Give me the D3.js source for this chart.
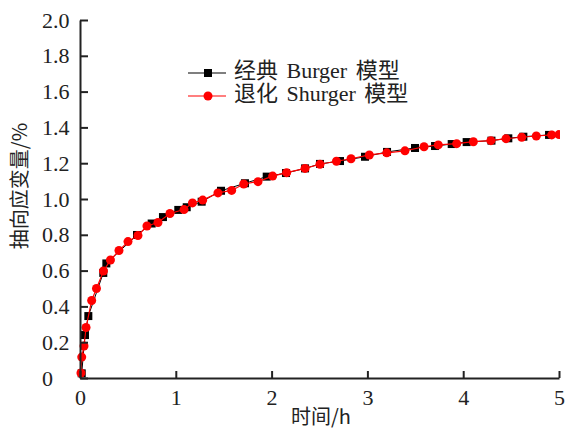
<!DOCTYPE html>
<html>
<head>
<meta charset="utf-8">
<script src="https://cdn.jsdelivr.net/npm/d3@7"></script>
<style>
  body { margin: 0; background: #fff; }
  svg { display: block; }
  .tick-label { font-family: "Liberation Serif", "Times New Roman", serif; font-size: 22px; fill: #222; }
  .axis-title { font-family: "Noto Sans CJK SC", sans-serif; font-size: 20px; fill: #222; }
  .legend-text { font-family: "Liberation Serif", "Noto Sans CJK SC", serif; font-size: 22px; word-spacing: 3px; fill: #222; }
</style>
</head>
<body>
<div id="chart"></div>
<script>
// Burger model (black squares): time in h, axial strain in %
const burgerTime = [0.018, 0.052, 0.087, 0.243, 0.275, 0.595, 0.748, 0.866, 1.026, 1.114, 1.27, 1.472, 1.722, 1.949, 2.15, 2.349, 2.505, 2.714, 2.975, 3.205, 3.497, 3.706, 3.88, 4.036, 4.295, 4.471, 4.628, 4.896];
const burgerStrain = [0.026, 0.24, 0.346, 0.587, 0.64, 0.799, 0.863, 0.899, 0.939, 0.954, 0.985, 1.046, 1.088, 1.125, 1.145, 1.171, 1.196, 1.212, 1.236, 1.263, 1.285, 1.296, 1.307, 1.318, 1.326, 1.339, 1.348, 1.358];

// Degenerated Shurger model (red circles)
const shurgerTime = [0.01, 0.018, 0.042, 0.063, 0.122, 0.172, 0.245, 0.318, 0.407, 0.501, 0.605, 0.699, 0.814, 0.939, 1.086, 1.174, 1.281, 1.44, 1.583, 1.709, 1.858, 2.011, 2.157, 2.349, 2.505, 2.677, 2.829, 3.02, 3.202, 3.392, 3.591, 3.74, 3.932, 4.106, 4.289, 4.447, 4.611, 4.763, 4.924, 5.0];
const shurgerStrain = [0.028, 0.117, 0.179, 0.282, 0.433, 0.5, 0.598, 0.659, 0.712, 0.762, 0.796, 0.849, 0.869, 0.919, 0.941, 0.978, 0.994, 1.034, 1.048, 1.084, 1.097, 1.128, 1.147, 1.171, 1.194, 1.211, 1.225, 1.246, 1.258, 1.269, 1.292, 1.302, 1.309, 1.32, 1.326, 1.337, 1.345, 1.352, 1.358, 1.36];

const xTicks = [0, 1, 2, 3, 4, 5];
const yTicks = [0, 0.2, 0.4, 0.6, 0.8, 1.0, 1.2, 1.4, 1.6, 1.8, 2.0];
const xTitle = "时间/h";
const yTitle = "抽向应变量/%";
const legendLabels = ["经典 Burger 模型", "退化 Shurger 模型"];

const width = 565, height = 430;
const margin = { top: 20, right: 6, bottom: 52, left: 80 };

const svg = d3.select("#chart").append("svg")
    .attr("width", width)
    .attr("height", height);

const x = d3.scaleLinear().domain([0, 5]).range([margin.left, width - margin.right]);
const y = d3.scaleLinear().domain([0, 2]).range([height - margin.bottom, margin.top]);

// clip so the last marker is cut at the end of the x axis
svg.append("clipPath").attr("id", "plot-clip")
    .append("rect")
    .attr("x", margin.left - 10)
    .attr("y", margin.top - 10)
    .attr("width", x(5) - margin.left + 11)
    .attr("height", y(0) - margin.top + 20);

const burger = burgerTime.map((t, i) => ({ t, v: burgerStrain[i] }));
const shurger = shurgerTime.map((t, i) => ({ t, v: shurgerStrain[i] }));

const line = d3.line().x(d => x(d.t)).y(d => y(d.v));

const plot = svg.append("g").attr("clip-path", "url(#plot-clip)");

// black line + squares
plot.append("path")
    .attr("d", line(burger))
    .attr("fill", "none")
    .attr("stroke", "#000")
    .attr("stroke-width", 1);

plot.selectAll(".sq")
    .data(burger)
    .join("rect")
    .attr("class", "sq")
    .attr("x", d => x(d.t) - 4)
    .attr("y", d => y(d.v) - 4)
    .attr("width", 8)
    .attr("height", 8)
    .attr("fill", "#000");

// red line + circles
plot.append("path")
    .attr("d", line(shurger))
    .attr("fill", "none")
    .attr("stroke", "#ff0000")
    .attr("stroke-width", 1.2);

plot.selectAll(".dot")
    .data(shurger)
    .join("circle")
    .attr("class", "dot")
    .attr("cx", d => x(d.t))
    .attr("cy", d => y(d.v))
    .attr("r", 4.5)
    .attr("fill", "#ff0000");

// axes (ticks pointing inward)
const xAxis = svg.append("g")
    .attr("transform", `translate(0, ${y(0)})`)
    .call(d3.axisBottom(x).tickValues(xTicks).tickSize(-7).tickSizeOuter(0).tickFormat(d3.format("d")));
xAxis.select(".domain").attr("stroke", "#222").attr("stroke-width", 2);
xAxis.selectAll(".tick line").attr("stroke", "#222").attr("stroke-width", 2);
xAxis.selectAll(".tick text")
    .attr("class", "tick-label")
    .attr("y", 11)
    .attr("dy", "0.71em");

const yAxis = svg.append("g")
    .attr("transform", `translate(${margin.left}, 0)`)
    .call(d3.axisLeft(y).tickValues(yTicks).tickSize(-8).tickSizeOuter(0)
        .tickFormat(d => d === 0 ? "0" : d3.format(".1f")(d)));
yAxis.select(".domain").attr("stroke", "#222").attr("stroke-width", 2);
yAxis.selectAll(".tick line").attr("stroke", "#222").attr("stroke-width", 2);
yAxis.selectAll(".tick text")
    .attr("class", "tick-label")
    .attr("text-anchor", "start")
    .attr("x", 42 - margin.left)
    .attr("dy", "0.32em");

// axis titles
svg.append("text")
    .attr("class", "axis-title")
    .attr("x", 321)
    .attr("y", 419)
    .attr("text-anchor", "middle")
    .attr("dominant-baseline", "middle")
    .text(xTitle);

svg.append("text")
    .attr("class", "axis-title")
    .attr("transform", `translate(22, 186) rotate(-90)`)
    .attr("text-anchor", "middle")
    .attr("dominant-baseline", "middle")
    .text(yTitle);

// legend
const legend = svg.append("g");
const legendRows = [
    { label: legendLabels[0], color: "#000", shape: "square", y: 73 },
    { label: legendLabels[1], color: "#ff0000", shape: "circle", y: 96 }
];
legendRows.forEach(r => {
    legend.append("line")
        .attr("x1", 188).attr("x2", 226)
        .attr("y1", r.y).attr("y2", r.y)
        .attr("stroke", r.color).attr("stroke-width", 1.2);
    if (r.shape === "square") {
        legend.append("rect")
            .attr("x", 204).attr("y", r.y - 4)
            .attr("width", 8).attr("height", 8)
            .attr("fill", r.color);
    } else {
        legend.append("circle")
            .attr("cx", 208).attr("cy", r.y)
            .attr("r", 4.5).attr("fill", r.color);
    }
    legend.append("text")
        .attr("class", "legend-text")
        .attr("x", 234)
        .attr("y", r.y)
        .attr("dominant-baseline", "middle")
        .text(r.label);
});
</script>
</body>
</html>
